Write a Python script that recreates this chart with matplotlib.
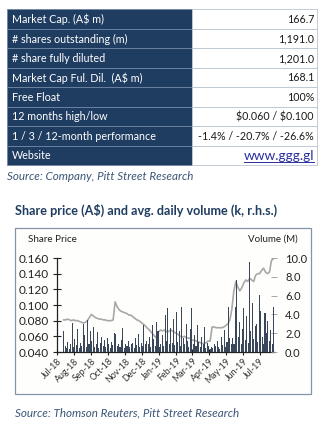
import matplotlib
matplotlib.use("Agg")
import matplotlib.pyplot as plt
import matplotlib.dates as mdates
from matplotlib.patches import Rectangle
import pandas as pd

plt.rcParams['font.family'] = ['Lato', 'DejaVu Sans']

# ---------------- data ----------------
table_labels = ["Market Cap. (A$ m)", "# shares outstanding (m)", "# share fully diluted",
                "Market Cap Ful. Dil.  (A$ m)", "Free Float", "12 months high/low",
                "1 / 3 / 12-month performance", "Website"]
table_values = ["166.7", "1,191.0", "1,201.0", "168.1", "100%", "$0.060 / $0.100",
                "-1.4% / -20.7% / -26.6%", "www.ggg.gl"]

price = [0.081, 0.081, 0.082, 0.081, 0.080, 0.081, 0.080, 0.080, 0.079, 0.078,
         0.077, 0.078, 0.080, 0.084, 0.088, 0.086, 0.084, 0.083, 0.082, 0.082,
         0.081, 0.081, 0.080, 0.080, 0.080, 0.081, 0.104, 0.098, 0.094, 0.092,
         0.091, 0.090, 0.089, 0.087, 0.087, 0.085, 0.083, 0.081, 0.080, 0.078,
         0.076, 0.074, 0.071, 0.069, 0.066, 0.063, 0.060, 0.058, 0.066, 0.068,
         0.067, 0.068, 0.066, 0.066, 0.068, 0.067, 0.065, 0.064, 0.062, 0.060,
         0.059, 0.060, 0.058, 0.058, 0.057, 0.055, 0.055, 0.054, 0.053, 0.052,
         0.051, 0.051, 0.052, 0.054, 0.054, 0.072, 0.072, 0.071, 0.071, 0.071,
         0.071, 0.072, 0.074, 0.076, 0.081, 0.095, 0.118, 0.130, 0.123, 0.118,
         0.122, 0.128, 0.132, 0.130, 0.134, 0.132, 0.130, 0.138, 0.140, 0.140,
         0.144, 0.147, 0.142, 0.140, 0.142, 0.157, 0.159]

volume = [2.2, 0.6, 0.4, 1.1, 0.3, 0.8, 3.1, 0.5, 1.4, 0.7,
          2.5, 0.4, 1.0, 0.6, 3.0, 1.8, 0.5, 3.4, 0.9, 2.2,
          1.2, 2.7, 0.5, 0.8, 2.1, 0.4, 1.0, 1.6, 0.6, 1.3,
          0.5, 1.5, 0.9, 0.4, 1.1, 0.7, 2.0, 1.9, 0.6, 0.8,
          0.5, 1.3, 2.6, 0.4, 0.9, 0.6, 1.2, 0.5, 0.8, 1.0,
          0.4, 1.5, 0.7, 1.9, 0.5, 1.0, 0.6, 2.9, 0.8, 1.2,
          0.9, 1.6, 0.5, 2.9, 1.4, 0.6, 3.2, 2.2, 0.5, 0.9,
          1.8, 0.6, 3.9, 1.2, 4.7, 0.8, 2.6, 1.0, 3.5, 0.7,
          4.3, 1.1, 2.2, 0.6, 4.8, 1.5, 0.8, 3.0, 1.2, 0.5,
          2.4, 4.7, 0.9, 1.8, 0.6, 2.9, 1.1, 0.5, 1.6, 0.8,
          2.7, 0.4, 1.0, 0.6, 0.3, 0.5, 0.4, 0.8, 0.6, 1.2,
          0.5, 0.3, 1.6, 0.7, 2.3, 0.5, 1.1, 4.8, 1.5, 0.9,
          1.5, 0.8, 4.8, 7.7, 1.6, 3.2, 0.9, 2.4, 4.7, 1.3,
          3.8, 1.0, 9.6, 2.2, 5.2, 1.4, 2.8, 3.0, 1.1, 6.1,
          4.4, 1.6, 0.9, 4.2, 2.0, 3.3, 1.2, 2.3, 0.8, 4.8]

price_dates = pd.date_range("2018-07-13", "2019-07-26", periods=len(price))
volume_dates = pd.date_range("2018-07-13", "2019-07-26", periods=len(volume))

price_ticks = [0.040, 0.060, 0.080, 0.100, 0.120, 0.140, 0.160]
volume_ticks = [0.0, 2.0, 4.0, 6.0, 8.0, 10.0]

# ---------------- figure ----------------
W, H = 329, 440
fig = plt.figure(figsize=(W / 100, H / 100), dpi=100)
fig.patch.set_facecolor("white")

bg = fig.add_axes([0, 0, 1, 1])
bg.set_xlim(0, W)
bg.set_ylim(H, 0)
bg.axis("off")
renderer = fig.canvas.get_renderer()


def size_for(text, target_px, **kw):
    """font size (pt) at which `text` is target_px wide."""
    t = bg.text(0, 0, text, fontsize=10, parse_math=False, **kw)
    w = t.get_window_extent(renderer).width
    t.remove()
    return 10 * target_px / w


NAVY = "#1f3c61"
lab_fs = size_for("1 / 3 / 12-month performance", 144)
val_fs = size_for("-1.4% / -20.7% / -26.6%", 114)
web_fs = size_for("www.ggg.gl", 70)

# table
top, rh = 9.3, 19.46
x0, xm, x1 = 7.3, 192.3, 316.5
for i, (lab, val) in enumerate(zip(table_labels, table_values)):
    y = top + i * rh
    bg.add_patch(Rectangle((x0, y), xm - x0, rh, facecolor=NAVY, edgecolor="#6f86a3", lw=0.6))
    bg.add_patch(Rectangle((xm, y), x1 - xm, rh, facecolor="white", edgecolor="#b9c4d2", lw=0.6))
    bg.text(x0 + 5, y + rh / 2 + 0.5, lab, color="white", fontsize=lab_fs, va="center", ha="left",
            parse_math=False)
    if lab == "Website":
        t = bg.text(x1 - 2.5, y + rh / 2 + 0.3, val, color="#2a2fa0", fontsize=web_fs,
                    va="center", ha="right", parse_math=False)
        bb = t.get_window_extent(renderer).transformed(bg.transData.inverted())
        bg.plot([bb.x0, bb.x1], [y + rh - 3.0, y + rh - 3.0], color="#2a2fa0", lw=0.7)
    else:
        bg.text(x1 - 2.5, y + rh / 2 + 0.5, val, color="#1a1a1a", fontsize=val_fs, va="center",
                ha="right", parse_math=False)

s1 = "Source: Company, Pitt Street Research"
bg.text(x0, 177, s1, color="#3b5578", fontsize=size_for(s1, 185, style="italic"),
        style="italic", va="center", ha="left")

title = "Share price (A$) and avg. daily volume (k, r.h.s.)"
bg.text(15, 210.5, title, color=NAVY,
        fontsize=size_for(title, 263, fontweight="bold"), fontweight="bold",
        va="center", ha="left", parse_math=False)

# chart box
bg.add_patch(Rectangle((15, 228.3), 296, 166, facecolor="#fefefc", edgecolor="#8494aa", lw=0.9))
bg.text(27.7, 239, "Share Price", color="#222222", fontsize=size_for("Share Price", 49),
        va="center", ha="left")
bg.text(297.7, 239, "Volume (M)", color="#222222", fontsize=size_for("Volume (M)", 50),
        va="center", ha="right")

s2 = "Source: Thomson Reuters, Pitt Street Research"
bg.text(15, 413, s2, color="#3b5578", fontsize=size_for(s2, 223, style="italic"),
        style="italic", va="center", ha="left")

left_fs = size_for("0.160", 30)
right_fs = size_for("10.0", 22)

# chart axes
ax = fig.add_axes([57 / W, 1 - 352 / H, (274 - 57) / W, (352 - 258) / H])
ax.patch.set_alpha(0)
ax.plot(price_dates, price, color="#a8a8a8", lw=1.2, zorder=2)
ax.set_ylim(0.04, 0.16)
ax.set_yticks(price_ticks)
ax.set_yticklabels([f"{v:.3f}" for v in price_ticks])
ax.set_xlim(pd.Timestamp("2018-07-01"), pd.Timestamp("2019-07-27"))
ax.xaxis.set_major_locator(mdates.MonthLocator())
ax.xaxis.set_major_formatter(mdates.DateFormatter("%b-%y"))
for s in ["top", "right"]:
    ax.spines[s].set_visible(False)
ax.spines["left"].set_color("#222222")
ax.spines["bottom"].set_color("#222222")
ax.spines["left"].set_linewidth(0.9)
ax.spines["bottom"].set_linewidth(0.9)
ax.tick_params(axis="y", direction="inout", length=6, width=0.8, color="#222222",
               labelsize=left_fs, labelcolor="#222222", pad=3)
ax.tick_params(axis="x", direction="inout", length=4.5, width=0.8, color="#222222",
               labelsize=6.4, labelcolor="#333333", pad=1)
for lab in ax.get_xticklabels():
    lab.set_rotation(45)
    lab.set_ha("right")
    lab.set_rotation_mode("anchor")

ax2 = ax.twinx()
ax2.bar(volume_dates, volume, width=1.9, color="#3a4659", lw=0, zorder=3)
ax2.set_ylim(0, 10)
ax2.set_yticks(volume_ticks)
ax2.set_yticklabels([f"{v:.1f}" for v in volume_ticks])
for s in ["top", "left", "bottom", "right"]:
    ax2.spines[s].set_visible(False)
ax2.tick_params(axis="y", direction="inout", length=4, width=0.6, color="#999999",
                labelsize=right_fs, labelcolor="#222222", pad=6)

fig.savefig("out.png", dpi=100, facecolor="white")
